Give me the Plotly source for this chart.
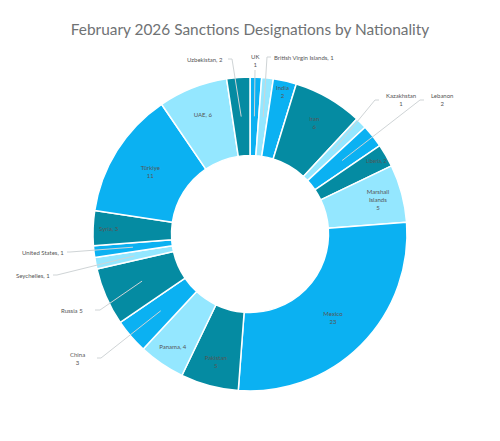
import math
import plotly.graph_objects as go

countries = ["UK", "British Virgin Islands", "India", "Iran", "Kazakhstan", "Lebanon", "Liberia",
             "Marshall Islands", "Mexico", "Pakistan", "Panama", "China", "Russia", "Seychelles",
             "United States", "Syria", "Türkiye", "UAE", "Uzbekistan"]
counts = [1, 1, 2, 6, 1, 2, 2, 5, 23, 5, 4, 3, 5, 1, 1, 3, 11, 6, 2]
inside_text = ["", "", "India<br>2", "Iran<br>6", "", "", "Liberia, 2", "Marshall<br>Islands<br>5",
               "Mexico<br>23", "Pakistan<br>5", "Panama, 4", "", "", "", "", "Syria, 3",
               "Türkiye<br>11", "UAE, 6", ""]

BLUE = "#0bb1f2"
LIGHT = "#94e7ff"
TEAL = "#058ba2"
colors = [BLUE, LIGHT, BLUE, TEAL, LIGHT, BLUE, TEAL, LIGHT, BLUE, TEAL, LIGHT, BLUE, TEAL, LIGHT,
          BLUE, TEAL, BLUE, LIGHT, TEAL]

W, H = 500, 441
CX, CY, R = 250, 234, 157
FONT = "Lato"
TXT = "#555555"
LINE = "#cfd4d6"

# outside labels: text, text x, text y, anchor, elbow, line end
callouts = {
    "Uzbekistan": ("Uzbekistan, 2", 225, 59, "right", (232, 59), (228, 59)),
    "UK": ("UK<br>1", 255, 61, "center", (255, 70), (255, 70)),
    "British Virgin Islands": ("British Virgin Islands, 1", 272, 57, "left", (267, 57), (271, 57)),
    "Kazakhstan": ("Kazakhstan<br>1", 401, 100, "center", (375, 100), (379, 100)),
    "Lebanon": ("Lebanon<br>2", 442, 100, "center", (420, 100), (424, 100)),
    "United States": ("United States, 1", 66, 252, "right", (70, 252), (67, 252)),
    "Seychelles": ("Seychelles, 1", 52, 275, "right", (57, 275), (53, 275)),
    "Russia": ("Russia 5", 85, 310, "right", (100, 310), (95, 310)),
    "China": ("China<br>3", 77, 358, "center", (101, 358), (97, 358)),
}


def px(x):
    return x / W


def py(y):
    return 1 - y / H


fig = go.Figure(go.Pie(
    labels=countries, values=counts, sort=False, direction="clockwise", rotation=0, hole=0.5,
    text=inside_text, textinfo="text",
    textposition=["inside" if t else "none" for t in inside_text],
    insidetextorientation="horizontal",
    textfont=dict(family=FONT, size=6, color=TXT),
    marker=dict(colors=colors, line=dict(color="white", width=1.5)),
    domain=dict(x=[px(CX - R), px(CX + R)], y=[py(CY + R), py(CY - R)]),
    showlegend=False,
))

total = sum(counts)
shapes = []
annotations = []
running = 0
for name, n in zip(countries, counts):
    mid = (running + n / 2) / total * 2 * math.pi
    running += n
    if name not in callouts:
        continue
    label, tx, ty, anchor, elbow, end = callouts[name]
    sx = CX + 0.75 * R * math.sin(mid)
    sy = CY - 0.75 * R * math.cos(mid)
    path = f"M {px(sx)} {py(sy)} L {px(elbow[0])} {py(elbow[1])} L {px(end[0])} {py(end[1])}"
    shapes.append(dict(type="path", path=path, xref="paper", yref="paper", layer="above",
                       line=dict(color=LINE, width=1)))
    annotations.append(dict(text=label, x=px(tx), y=py(ty), xref="paper", yref="paper",
                            xanchor=anchor, yanchor="middle", showarrow=False, align=anchor,
                            font=dict(family=FONT, size=6, color=TXT)))

fig.update_layout(
    width=W, height=H, margin=dict(l=0, r=0, t=0, b=0),
    paper_bgcolor="white", plot_bgcolor="white",
    title=dict(text="February 2026 Sanctions Designations by Nationality", x=0.5, xanchor="center",
               y=1 - 30 / H, yanchor="middle", font=dict(family=FONT, size=15.4, color="#6f7274")),
    shapes=shapes, annotations=annotations,
)

# page has a default 8px body margin, drop it so the figure fills the window
fig.write_html("out.html", config=dict(displayModeBar=False),
               post_script="document.body.style.margin='0';")
